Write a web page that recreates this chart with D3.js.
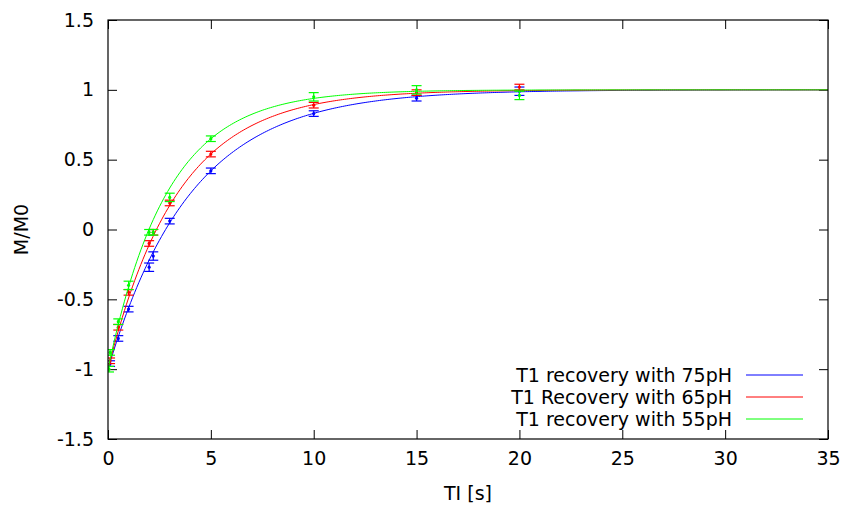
<!DOCTYPE html>
<html>
<head>
<meta charset="utf-8">
<script src="https://cdn.jsdelivr.net/npm/d3@7"></script>
<style>
  body { margin: 0; background: #fff; }
  text { font-family: "DejaVu Sans", sans-serif; fill: #000; }
</style>
</head>
<body>
<div id="chart"></div>
<script>
// measured points (TI in s, M/M0, error)
var tBlue = [0.1, 0.5, 1, 2, 2.2, 3, 5, 10, 15, 20];
var mBlue = [-0.96, -0.78, -0.57, -0.27, -0.19, 0.06, 0.42, 0.83, 0.94, 0.99];
var eBlue = [0.02, 0.02, 0.02, 0.03, 0.03, 0.02, 0.02, 0.02, 0.02, 0.03];

var tRed = [0.1, 0.5, 1, 2, 2.2, 3, 5, 10, 15, 20];
var mRed = [-0.94, -0.70, -0.45, -0.10, -0.02, 0.19, 0.54, 0.89, 0.98, 1.02];
var eRed = [0.02, 0.02, 0.02, 0.02, 0.02, 0.02, 0.02, 0.02, 0.02, 0.02];

var tGreen = [0.05, 0.1, 0.5, 1, 2, 2.2, 3, 5, 10, 15, 20];
var mGreen = [-1.0, -0.88, -0.66, -0.40, -0.02, -0.02, 0.23, 0.65, 0.95, 1.00, 0.96];
var eGreen = [0.02, 0.02, 0.02, 0.03, 0.02, 0.02, 0.03, 0.02, 0.03, 0.03, 0.03];

// fitted T1 (s) for M/M0 = 1 - 2 exp(-TI/T1)
var fitT1 = [4.04, 3.4, 2.87];
var labels = ['T1 recovery with 75pH', 'T1 Recovery with 65pH', 'T1 recovery with 55pH'];
var colors = ['#0000ff', '#ff0000', '#00ff00'];

var xTicks = [0, 5, 10, 15, 20, 25, 30, 35];
var yTicks = [-1.5, -1, -0.5, 0, 0.5, 1, 1.5];

var series = [
  { t: tBlue, m: mBlue, e: eBlue },
  { t: tRed, m: mRed, e: eRed },
  { t: tGreen, m: mGreen, e: eGreen }
];

var W = 846, H = 510,
    margin = { top: 20, right: 18, bottom: 71, left: 108 },
    width = W - margin.left - margin.right,
    height = H - margin.top - margin.bottom,
    fs = '19px';

var svg = d3.select('#chart').append('svg')
    .attr('width', W)
    .attr('height', H);

var g = svg.append('g')
    .attr('transform', 'translate(' + margin.left + ',' + margin.top + ')');

var x = d3.scaleLinear().domain([0, 35]).range([0, width]);
var y = d3.scaleLinear().domain([-1.5, 1.5]).range([height, 0]);
var fmt = function(d) { return String(d); };

// axes, ticks pointing inward, mirrored
g.append('g')
    .attr('transform', 'translate(0,' + height + ')')
    .call(d3.axisBottom(x).tickValues(xTicks).tickFormat(fmt).tickSizeInner(-9).tickSizeOuter(0).tickPadding(19))
    .call(function(a) {
      a.select('.domain').remove();
      a.selectAll('text').style('font-size', fs).attr('dy', '0.35em');
    });
g.append('g')
    .call(d3.axisTop(x).tickValues(xTicks).tickSizeInner(-9).tickSizeOuter(0).tickFormat(''))
    .select('.domain').remove();
g.append('g')
    .call(d3.axisLeft(y).tickValues(yTicks).tickFormat(fmt).tickSizeInner(-9).tickSizeOuter(0).tickPadding(14))
    .call(function(a) {
      a.select('.domain').remove();
      a.selectAll('text').style('font-size', fs);
    });
g.append('g')
    .attr('transform', 'translate(' + width + ',0)')
    .call(d3.axisRight(y).tickValues(yTicks).tickSizeInner(-9).tickSizeOuter(0).tickFormat(''))
    .select('.domain').remove();

g.selectAll('.tick line').attr('stroke', '#000');

// clip for curves
svg.append('clipPath').attr('id', 'clip')
  .append('rect').attr('width', width).attr('height', height);

var plot = g.append('g').attr('clip-path', 'url(#clip)');
var tSample = d3.range(0, 35.001, 0.1);

var line = d3.line()
    .x(function(d) { return x(d[0]); })
    .y(function(d) { return y(d[1]); });

series.forEach(function(s, i) {
  var c = colors[i];
  var curve = tSample.map(function(t) { return [t, 1 - 2 * Math.exp(-t / fitT1[i])]; });
  plot.append('path')
      .attr('d', line(curve))
      .attr('fill', 'none')
      .attr('stroke', c)
      .attr('stroke-width', 1);

  var pts = s.t.map(function(t, j) { return { t: t, m: s.m[j], e: s.e[j] }; });
  var eb = plot.append('g').selectAll('g').data(pts).enter().append('g')
      .attr('stroke', c).attr('stroke-width', 1.2);
  eb.append('line')
      .attr('x1', function(d) { return x(d.t); })
      .attr('x2', function(d) { return x(d.t); })
      .attr('y1', function(d) { return y(d.m - d.e); })
      .attr('y2', function(d) { return y(d.m + d.e); });
  eb.append('line')
      .attr('x1', function(d) { return x(d.t) - 5; })
      .attr('x2', function(d) { return x(d.t) + 5; })
      .attr('y1', function(d) { return y(d.m - d.e); })
      .attr('y2', function(d) { return y(d.m - d.e); });
  eb.append('line')
      .attr('x1', function(d) { return x(d.t) - 5; })
      .attr('x2', function(d) { return x(d.t) + 5; })
      .attr('y1', function(d) { return y(d.m + d.e); })
      .attr('y2', function(d) { return y(d.m + d.e); });
  eb.append('circle')
      .attr('cx', function(d) { return x(d.t); })
      .attr('cy', function(d) { return y(d.m); })
      .attr('r', 1.6)
      .attr('fill', c)
      .attr('stroke', 'none');
});

// border
g.append('rect')
    .attr('width', width)
    .attr('height', height)
    .attr('fill', 'none')
    .attr('stroke', '#000')
    .attr('stroke-width', 1.2);

// legend
var legend = g.append('g')
    .attr('transform', 'translate(' + (732 - margin.left) + ',' + (375 - margin.top) + ')');
labels.forEach(function(lab, i) {
  legend.append('text')
      .attr('x', 0)
      .attr('y', i * 22)
      .attr('dy', '0.35em')
      .attr('text-anchor', 'end')
      .style('font-size', fs)
      .text(lab);
  legend.append('line')
      .attr('x1', 14).attr('x2', 71)
      .attr('y1', i * 22).attr('y2', i * 22)
      .attr('stroke', colors[i])
      .attr('stroke-width', 1);
});

// axis titles
svg.append('text')
    .attr('x', margin.left + width / 2)
    .attr('y', 500)
    .attr('text-anchor', 'middle')
    .style('font-size', fs)
    .text('TI [s]');
svg.append('text')
    .attr('transform', 'translate(28,' + (margin.top + height / 2) + ') rotate(-90)')
    .attr('text-anchor', 'middle')
    .style('font-size', fs)
    .text('M/M0');
</script>
</body>
</html>
